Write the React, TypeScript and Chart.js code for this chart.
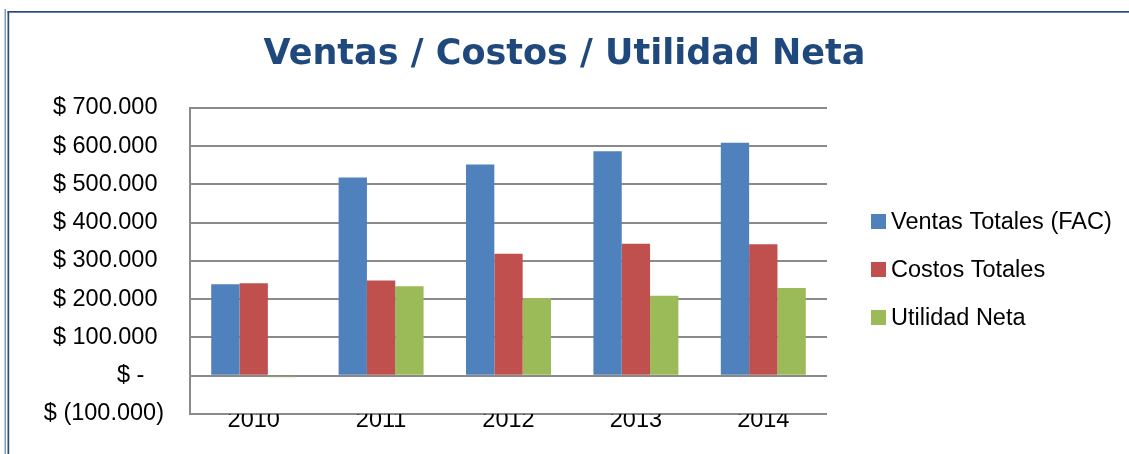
import React, { useEffect, useRef } from 'react';
import { Chart, registerables } from 'chart.js';

Chart.register(...registerables);

const categories = ['2010', '2011', '2012', '2013', '2014'];
const ventasTotales = [239000, 518000, 552000, 587000, 609000];
const costosTotales = [242000, 249000, 319000, 345000, 344000];
const utilidadNeta = [-4000, 234000, 203000, 209000, 229000];
const seriesLabels = ['Ventas Totales (FAC)', 'Costos Totales', 'Utilidad Neta'];
const seriesColors = ['#4F81BD', '#C0504D', '#9BBB59'];
const yMin = -100000;
const yMax = 700000;
const yStep = 100000;
const titleText = 'Ventas / Costos / Utilidad Neta';

function fmtThousands(n: number): string {
  return String(Math.round(n)).replace(/\B(?=(\d{3})+(?!\d))/g, '.');
}

function accounting(v: number): string {
  if (v === 0) return '$ -   ';
  if (v < 0) return '$ (' + fmtThousands(-v) + ')';
  return '$ ' + fmtThousands(v) + ' ';
}

const AXIS_FONT = '"Liberation Sans", Arial, sans-serif';
const GRID = '#8a8a8a';

const framePlugin = {
  id: 'frame',
  beforeDraw(chart: any) {
    const ctx = chart.ctx;
    ctx.save();
    ctx.fillStyle = '#ffffff';
    ctx.fillRect(0, 0, chart.width, chart.height);
    ctx.fillStyle = '#7f98c0';
    ctx.fillRect(4.5, 9, 1.5, chart.height - 9);
    ctx.fillStyle = '#2a4a7f';
    ctx.fillRect(7.5, 11, 1.7, chart.height - 11);
    ctx.fillRect(7.5, 11, chart.width - 7.5, 1.7);
    ctx.restore();
  },
};

const sideLegendPlugin = {
  id: 'sideLegend',
  afterDraw(chart: any) {
    const ctx = chart.ctx;
    const x0 = chart.chartArea.right + 44;
    ctx.save();
    ctx.font = '23.5px ' + AXIS_FONT;
    ctx.textBaseline = 'middle';
    ctx.textAlign = 'left';
    chart.data.datasets.forEach((ds: any, i: number) => {
      const cy = 221.5 + i * 48;
      ctx.fillStyle = ds.backgroundColor;
      ctx.fillRect(x0, cy - 7.5, 15, 15);
      ctx.fillStyle = '#000000';
      ctx.fillText(ds.label, x0 + 20, cy + 1);
    });
    ctx.restore();
  },
};

export default function App() {
  const canvasRef = useRef<HTMLCanvasElement | null>(null);

  useEffect(() => {
    const canvas = canvasRef.current;
    if (!canvas) return;
    const seriesData = [ventasTotales, costosTotales, utilidadNeta];
    const chart = new Chart(canvas, {
      type: 'bar',
      data: {
        labels: categories,
        datasets: seriesData.map((d, i) => ({
          label: seriesLabels[i],
          data: d,
          backgroundColor: seriesColors[i],
          borderWidth: 0,
          categoryPercentage: 0.667,
          barPercentage: 1.0,
        })),
      },
      options: {
        responsive: false,
        animation: false,
        devicePixelRatio: 1,
        layout: { padding: { left: 0, right: 0, top: 0, bottom: 22 } },
        plugins: {
          legend: { display: false },
          tooltip: { enabled: false },
          title: {
            display: true,
            text: titleText,
            color: '#1F497D',
            font: { family: '"DejaVu Sans", sans-serif', size: 35, weight: 'bold' },
            padding: { top: 34, bottom: 32 },
          },
        },
        scales: {
          x: {
            grid: { display: false, drawTicks: false },
            border: { display: false },
            ticks: {
              color: '#000000',
              font: { family: AXIS_FONT, size: 23.5 },
              padding: -7,
              maxRotation: 0,
            },
          },
          y: {
            min: yMin,
            max: yMax,
            grid: { color: GRID, lineWidth: 2, drawTicks: false },
            border: { display: true, color: GRID, width: 2 },
            ticks: {
              stepSize: yStep,
              color: '#000000',
              font: { family: AXIS_FONT, size: 23.5 },
              padding: 26,
              callback: (v: any) => accounting(Number(v)),
            },
            afterFit: (s: any) => {
              s.width = 190;
            },
          },
          y2: {
            type: 'linear',
            position: 'right',
            display: true,
            grid: { display: false, drawTicks: false },
            border: { display: false },
            ticks: { display: false },
            afterFit: (s: any) => {
              s.width = 302;
            },
          },
        },
      },
      plugins: [framePlugin, sideLegendPlugin],
    } as any);
    return () => chart.destroy();
  }, []);

  return (
    <div style={{ position: 'absolute', left: 0, top: 0, width: 1129, height: 454 }}>
      <canvas ref={canvasRef} width={1129} height={454} style={{ display: 'block' }} />
    </div>
  );
}
